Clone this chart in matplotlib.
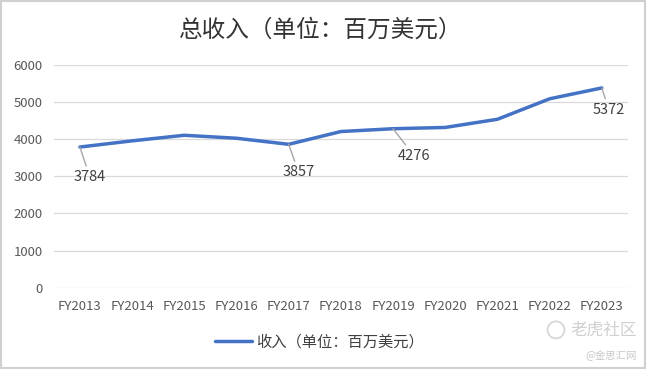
import matplotlib
matplotlib.use('Agg')
import matplotlib.pyplot as plt
from matplotlib.patches import Rectangle, Ellipse

plt.rcParams['font.family'] = ['Noto Sans CJK SC', 'DejaVu Sans']

years = ['FY2013', 'FY2014', 'FY2015', 'FY2016', 'FY2017', 'FY2018',
         'FY2019', 'FY2020', 'FY2021', 'FY2022', 'FY2023']
revenue = [3784, 3950, 4100, 4020, 3857, 4200, 4276, 4310, 4530, 5080, 5372]
labelled = [0, 4, 6, 10]

fig = plt.figure(figsize=(6.48, 3.69), dpi=100)
ax = fig.add_axes([0.083, 0.22, 0.886, 0.605])

x = list(range(len(years)))
line, = ax.plot(x, revenue, color='#4472C4', lw=2.5, solid_capstyle='round')

# data labels with leader lines
offsets = {0: (10, -30), 4: (10, -28), 6: (21, -27), 10: (7, -22)}
for i in labelled:
    dx, dy = offsets[i]
    ax.annotate(str(revenue[i]), xy=(i, revenue[i]), xytext=(dx, dy),
                textcoords='offset pixels', ha='center', va='center',
                fontsize=10.5, color='#404040',
                arrowprops=dict(arrowstyle='-', color='#a6a6a6', lw=1,
                                shrinkA=1, shrinkB=0))

ax.set_xlim(-0.5, len(years) - 0.5)
ax.set_ylim(0, 6000)
ax.set_yticks(range(0, 6001, 1000))
ax.set_xticks(x)
ax.set_xticklabels(years)
ax.grid(axis='y', color='#d9d9d9', lw=0.9)
ax.set_axisbelow(True)
for s in ax.spines.values():
    s.set_visible(False)
ax.tick_params(length=0, labelsize=9.5, labelcolor='#595959')
ax.tick_params(axis='x', pad=9)
ax.tick_params(axis='y', pad=8)

fig.text(0.495, 0.918, '总收入（单位：百万美元）', ha='center', va='center',
         fontsize=17, color='#333333')

fig.legend([line], ['收入（单位：百万美元）'], loc='center', bbox_to_anchor=(0.493, 0.073),
           frameon=False, fontsize=11, handlelength=2.4, handletextpad=0.3,
           labelcolor='#404040')

# watermark
fig.text(0.983, 0.106, '老虎社区', ha='right', va='center', fontsize=12, color='#d0d0d0')
fig.patches.append(Ellipse((0.858, 0.106), 0.026, 0.046, transform=fig.transFigure,
                           fill=False, edgecolor='#d4d4d4', lw=1.2))
fig.text(0.983, 0.038, '@金思汇网', ha='right', va='center', fontsize=7.5, color='#c8c8c8')

fig.patches.append(Rectangle((0.002, 0.004), 0.994, 0.992, transform=fig.transFigure,
                             fill=False, edgecolor='#d0d0d0', lw=1.5))

fig.savefig('out.png', dpi=100)
plt.close(fig)
